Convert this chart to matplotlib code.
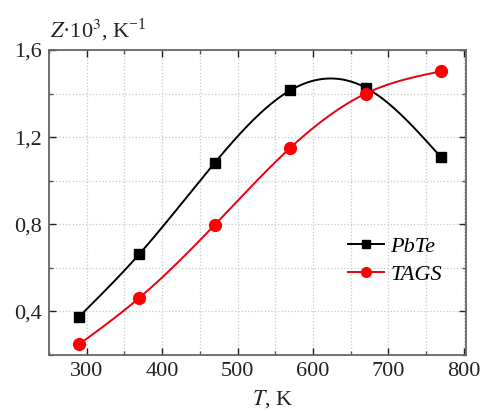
import numpy as np
import matplotlib
matplotlib.use("Agg")
import matplotlib.pyplot as plt
from matplotlib.ticker import MultipleLocator, FuncFormatter

plt.rcParams['font.family'] = ['Liberation Serif', 'DejaVu Serif']
plt.rcParams['mathtext.fontset'] = 'stix'

# Temperature points (K) and figure of merit Z*10^3 (1/K)
temperature = [290, 370, 470, 570, 670, 770]
z_pbte = [0.376, 0.664, 1.083, 1.415, 1.427, 1.107]
z_tags = [0.249, 0.463, 0.798, 1.151, 1.400, 1.502]
series_names = ['PbTe', 'TAGS']


def natural_spline(x, y, xs):
    x = np.asarray(x, float)
    y = np.asarray(y, float)
    n = len(x)
    h = np.diff(x)
    A = np.zeros((n, n))
    b = np.zeros(n)
    A[0, 0] = A[-1, -1] = 1.0
    for i in range(1, n - 1):
        A[i, i - 1] = h[i - 1]
        A[i, i] = 2 * (h[i - 1] + h[i])
        A[i, i + 1] = h[i]
        b[i] = 3 * ((y[i + 1] - y[i]) / h[i] - (y[i] - y[i - 1]) / h[i - 1])
    c = np.linalg.solve(A, b)
    out = np.empty_like(xs)
    for k, xv in enumerate(xs):
        i = min(max(np.searchsorted(x, xv) - 1, 0), n - 2)
        d = (c[i + 1] - c[i]) / (3 * h[i])
        bb = (y[i + 1] - y[i]) / h[i] - h[i] * (2 * c[i] + c[i + 1]) / 3
        t = xv - x[i]
        out[k] = y[i] + bb * t + c[i] * t ** 2 + d * t ** 3
    return out


fig = plt.figure(figsize=(4.87, 4.12), dpi=100)
ax = fig.add_axes([49 / 487, 1 - 355 / 412, (466 - 49) / 487, (355 - 50) / 412])

xs = np.linspace(temperature[0], temperature[-1], 400)
ax.plot(xs, natural_spline(temperature, z_pbte, xs), color='black', lw=1.4, zorder=3)
ax.plot(xs, natural_spline(temperature, z_tags, xs), color='#e8000b', lw=1.4, zorder=3)
ax.plot(temperature, z_pbte, ls='none', marker='s', ms=7.5, color='black', zorder=4)
ax.plot(temperature, z_tags, ls='none', marker='o', ms=8.5, color='#ff0000', zorder=4)

# legend proxies
h1, = ax.plot([], [], color='black', lw=1.4, marker='s', ms=6)
h2, = ax.plot([], [], color='#e8000b', lw=1.4, marker='o', ms=7, mfc='#ff0000', mec='#ff0000')
leg = ax.legend([h1, h2], series_names, loc='center left', bbox_to_anchor=(0.67, 0.31),
                frameon=False, handlelength=1.6, handletextpad=0.3, labelspacing=0.35,
                prop={'family': 'Liberation Serif', 'style': 'italic', 'size': 16})

ax.set_xlim(250, 803)
ax.set_ylim(0.2, 1.6)
ax.xaxis.set_major_locator(MultipleLocator(100))
ax.xaxis.set_minor_locator(MultipleLocator(50))
ax.yaxis.set_major_locator(MultipleLocator(0.4))
ax.yaxis.set_minor_locator(MultipleLocator(0.2))
ax.yaxis.set_major_formatter(FuncFormatter(lambda v, p: f'{v:.1f}'.replace('.', ',')))

ax.grid(True, which='both', color='#c8c8c8', ls=':', lw=0.9, zorder=0)
ax.tick_params(which='both', direction='in', top=True, right=True, color='#555555', width=1.0)
ax.tick_params(which='major', length=5, labelsize=16, pad=5, colors='#222222')
ax.tick_params(which='minor', length=3)
for sp in ax.spines.values():
    sp.set_color('#666666')
    sp.set_linewidth(1.3)

fig.text(50 / 487, 1 - 37 / 412, r'$Z$·10$^3$, K$^{\mathdefault{-1}}$', fontsize=16,
         ha='left', va='baseline', color='#222222')
fig.text(273 / 487, 1 - 399 / 412, r'$T$, K', fontsize=16, ha='center', va='center',
         color='#222222')

fig.savefig('out.png', dpi=100)
